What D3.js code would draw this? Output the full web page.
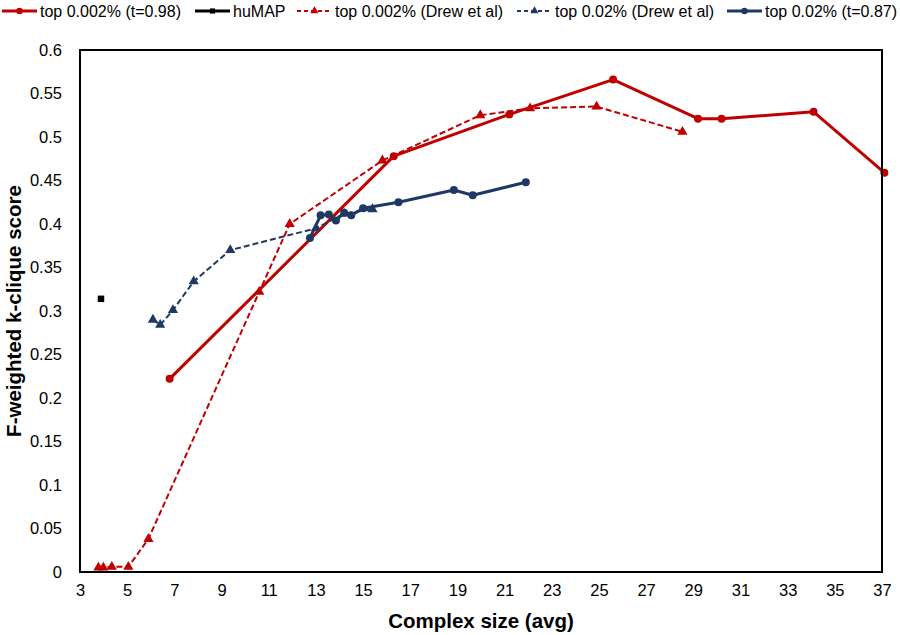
<!DOCTYPE html>
<html><head><meta charset="utf-8">
<script src="https://cdn.jsdelivr.net/npm/d3@7"></script>
<style>body{margin:0;background:#fff}svg{display:block}text{font-family:"Liberation Sans",Arial,sans-serif}</style>
</head><body><svg id="c" width="900" height="635"></svg>
<script>
// Data
const redSolidX = [6.8, 16.3, 21.2, 25.6, 29.2, 30.2, 34.1, 37.1];
const redSolidY = [0.222, 0.478, 0.526, 0.566, 0.521, 0.521, 0.529, 0.459];
const humapX = [3.89];
const humapY = [0.314];
const redDashX = [3.78, 3.99, 4.35, 5.05, 5.9, 10.6, 11.89, 15.82, 19.97, 22.08, 24.9, 28.54];
const redDashY = [0.005, 0.005, 0.006, 0.006, 0.038, 0.322, 0.40, 0.473, 0.525, 0.533, 0.535, 0.506];
const blueDashX = [6.09, 6.4, 6.94, 7.82, 9.37, 13.0, 14.2, 15.4];
const blueDashY = [0.29, 0.284, 0.301, 0.334, 0.370, 0.395, 0.412, 0.417];
const blueSolidX = [12.75, 13.2, 13.55, 13.85, 14.2, 14.5, 15.0, 16.5, 18.85, 19.65, 21.9];
const blueSolidY = [0.384, 0.41, 0.411, 0.404, 0.413, 0.41, 0.418, 0.425, 0.439, 0.433, 0.448];
const xTicks = d3.range(3, 38, 2);
const yTicks = d3.range(0, 0.601, 0.05).map(v => +v.toFixed(2));
const seriesNames = ["top 0.002% (t=0.98)", "huMAP", "top 0.002% (Drew et al)", "top 0.02% (Drew et al)", "top 0.02% (t=0.87)"];

const RED = "#C00000", BLUE = "#1F3864";
const series = [
  {name: seriesNames[0], xs: redSolidX, ys: redSolidY, color: RED, dash: null, marker: "circle", w: 3},
  {name: seriesNames[1], xs: humapX, ys: humapY, color: "#000", dash: null, marker: "square", w: 2.5},
  {name: seriesNames[2], xs: redDashX, ys: redDashY, color: RED, dash: "6,3", marker: "triangle", w: 2},
  {name: seriesNames[3], xs: blueDashX, ys: blueDashY, color: BLUE, dash: "6,3", marker: "triangle", w: 2},
  {name: seriesNames[4], xs: blueSolidX, ys: blueSolidY, color: BLUE, dash: null, marker: "circle", w: 3}
];

const svg = d3.select("#c");
const L = 80, R = 882, T = 50, B = 572;
const x = d3.scaleLinear().domain([3, 37]).range([L, R]);
const y = d3.scaleLinear().domain([0, 0.6]).range([B, T]);

function markerPath(type) {
  if (type === "circle") return d3.symbol().type(d3.symbolCircle).size(50)();
  if (type === "square") return d3.symbol().type(d3.symbolSquare).size(42)();
  return d3.symbol().type(d3.symbolTriangle).size(45)();
}

// axes (no tick marks)
const xAxis = d3.axisBottom(x).tickValues(xTicks).tickSize(0).tickPadding(12).tickFormat(d3.format("d"));
const gx = svg.append("g").attr("transform", `translate(0,${B})`).call(xAxis);
gx.select(".domain").remove();
gx.selectAll("text").attr("font-size", 16.5).attr("fill", "#000").attr("font-family", "Liberation Sans, Arial");
const yAxis = d3.axisLeft(y).tickValues(yTicks).tickSize(0).tickPadding(18).tickFormat(d => d === 0 ? "0" : String(+d.toFixed(2)));
const gy = svg.append("g").attr("transform", `translate(${L},0)`).call(yAxis);
gy.select(".domain").remove();
gy.selectAll("text").attr("font-size", 16.5).attr("fill", "#000").attr("font-family", "Liberation Sans, Arial");

// series
const line = d3.line().x(d => x(d[0])).y(d => y(d[1]));
series.forEach(s => {
  const pts = s.xs.map((v, i) => [v, s.ys[i]]);
  const g = svg.append("g");
  if (pts.length > 1) {
    g.append("path").attr("d", line(pts)).attr("fill", "none").attr("stroke", s.color)
      .attr("stroke-width", s.w).attr("stroke-dasharray", s.dash).attr("stroke-linejoin", "round");
  }
  g.selectAll("path.m").data(pts).enter().append("path").attr("class", "m")
    .attr("d", markerPath(s.marker))
    .attr("transform", d => `translate(${x(d[0])},${y(d[1])})`)
    .attr("fill", s.color);
});

// plot box
svg.append("rect").attr("x", L).attr("y", T).attr("width", R - L).attr("height", B - T)
  .attr("fill", "none").attr("stroke", "#000").attr("stroke-width", 2);

// axis titles
svg.append("text").attr("x", 481).attr("y", 628).attr("text-anchor", "middle")
  .attr("font-size", 20.5).attr("font-weight", "bold").text("Complex size (avg)");
svg.append("text").attr("transform", `translate(21,${(T + B) / 2}) rotate(-90)`).attr("text-anchor", "middle")
  .attr("font-size", 20.5).attr("font-weight", "bold").text("F-weighted k-clique score");

// legend
const legX = [0, 193, 295, 515, 725];
const lg = svg.append("g").attr("transform", "translate(0,11)");
series.forEach((s, i) => {
  const g = lg.append("g").attr("transform", `translate(${legX[i]},0)`);
  g.append("line").attr("x1", 2).attr("x2", 37).attr("y1", 0).attr("y2", 0)
    .attr("stroke", s.color).attr("stroke-width", s.dash ? 2 : 3).attr("stroke-dasharray", s.dash ? "4,3" : null);
  g.append("path").attr("d", markerPath(s.marker)).attr("transform", "translate(19.5,0) scale(0.8)").attr("fill", s.color);
  g.append("text").attr("x", 40).attr("y", 6).attr("font-size", 16).text(s.name);
});
</script></body></html>
